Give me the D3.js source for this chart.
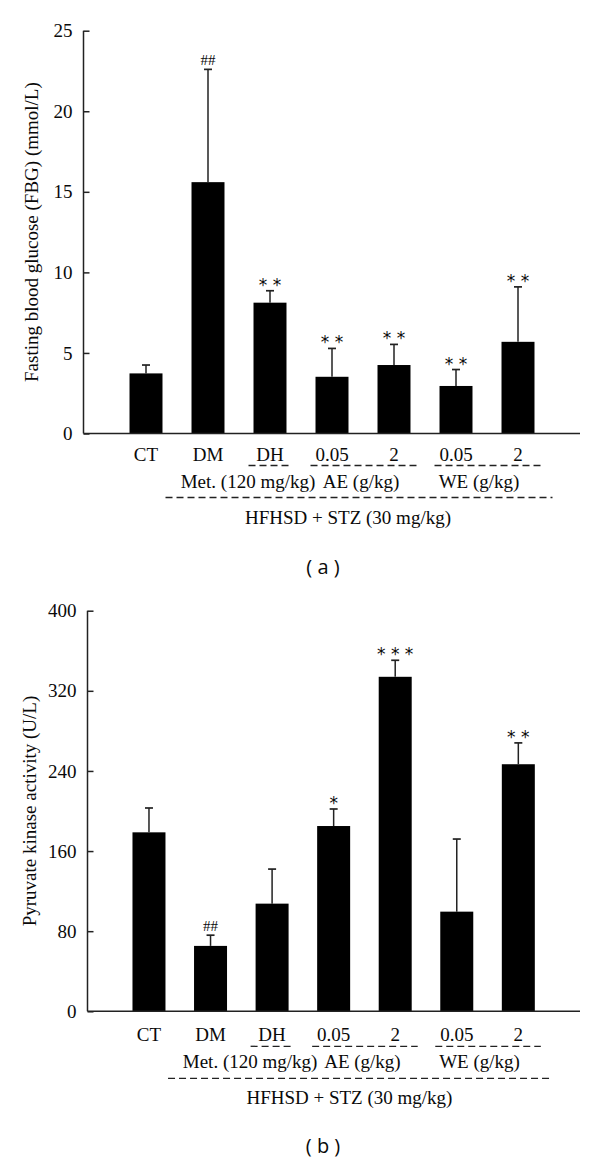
<!DOCTYPE html>
<html>
<head>
<meta charset="utf-8">
<script src="https://cdn.jsdelivr.net/npm/d3@7"></script>
<style>
  html, body { margin: 0; padding: 0; background: #fff; }
  svg { display: block; }
  text { font-family: "Liberation Serif", "Times New Roman", serif; fill: #0a0a0a; }
</style>
</head>
<body>
<svg id="chart" width="600" height="1161"></svg>
<script>
// ---- data ----
const groups = ["CT", "DM", "DH", "AE 0.05", "AE 2", "WE 0.05", "WE 2"];
const tickLabels = ["CT", "DM", "DH", "0.05", "2", "0.05", "2"];

const fbgMean = [3.73, 15.6, 8.12, 3.52, 4.25, 2.95, 5.69];
const fbgErr  = [0.52, 7.0, 0.74, 1.76, 1.28, 1.02, 3.41];
const fbgSig  = ["", "##", "* *", "* *", "* *", "* *", "* *"];
const fbgTicks = [0, 5, 10, 15, 20, 25];

const pkMean = [178.7, 65.3, 107.5, 185, 334, 99.5, 246.7];
const pkErr  = [24.3, 10.7, 34.5, 17, 16.5, 72.5, 21.3];
const pkSig  = ["", "##", "", "*", "* * *", "", "* *"];
const pkTicks = [0, 80, 160, 240, 320, 400];

const subGroups = [
  {label: "Met. (120 mg/kg)", from: "DH", to: "DH", textShift: -22},
  {label: "AE (g/kg)", from: "AE 0.05", to: "AE 2", textShift: -2},
  {label: "WE (g/kg)", from: "WE 0.05", to: "WE 2", textShift: -8}
];
const mainGroup = {label: "HFHSD + STZ (30 mg/kg)", from: "DM", to: "WE 2"};

const svg = d3.select("#chart");

function drawPanel(opt) {
  const g = svg.append("g");
  const x = d3.scaleBand().domain(groups).range(opt.xRange)
    .paddingInner(opt.padIn).paddingOuter(opt.padIn / 2);
  const y = d3.scaleLinear().domain(opt.yDomain).range(opt.yRange);
  const base = y(0);

  // bars
  g.selectAll("rect.bar").data(groups).enter().append("rect")
    .attr("x", d => x(d)).attr("width", x.bandwidth())
    .attr("y", (d, i) => y(opt.mean[i]))
    .attr("height", (d, i) => base - y(opt.mean[i]))
    .attr("fill", "#000");

  // error bars
  const eb = g.selectAll("g.err").data(groups).enter().append("g");
  eb.append("line")
    .attr("x1", d => x(d) + x.bandwidth() / 2).attr("x2", d => x(d) + x.bandwidth() / 2)
    .attr("y1", (d, i) => y(opt.mean[i])).attr("y2", (d, i) => y(opt.mean[i] + opt.err[i]))
    .attr("stroke", "#222").attr("stroke-width", 1.5);
  eb.append("line")
    .attr("x1", d => x(d) + x.bandwidth() / 2 - 4).attr("x2", d => x(d) + x.bandwidth() / 2 + 4)
    .attr("y1", (d, i) => y(opt.mean[i] + opt.err[i])).attr("y2", (d, i) => y(opt.mean[i] + opt.err[i]))
    .attr("stroke", "#222").attr("stroke-width", 1.7);

  // significance marks
  g.selectAll("text.sig").data(groups).enter().append("text")
    .attr("x", d => x(d) + x.bandwidth() / 2)
    .attr("y", (d, i) => y(opt.mean[i] + opt.err[i]) - (opt.sig[i] === "##" ? 4 : 0))
    .attr("text-anchor", "middle")
    .style("font-family", (d, i) => opt.sig[i] === "##"
      ? '"Liberation Serif", serif' : '"DejaVu Sans", sans-serif')
    .attr("font-size", (d, i) => opt.sig[i] === "##" ? 15 : 17)
    .text((d, i) => opt.sig[i]);

  // y axis
  const yAxis = d3.axisLeft(y).tickValues(opt.ticks).tickSize(-6).tickPadding(11)
    .tickFormat(d3.format("d"));
  const ya = g.append("g").attr("transform", `translate(${opt.xAxisX},0)`).call(yAxis);
  ya.select(".domain").attr("stroke", "#222").attr("stroke-width", 1.5)
    .attr("d", `M0,${opt.yRange[1]}V${base}`);
  ya.selectAll(".tick line").attr("stroke", "#222").attr("stroke-width", 1.5);
  ya.selectAll(".tick text").attr("font-size", 19)
    .attr("font-family", '"Liberation Serif", "Times New Roman", serif').attr("fill", "#0a0a0a");

  // baseline (x axis)
  g.append("line").attr("x1", opt.xAxisX).attr("x2", opt.xEnd)
    .attr("y1", base).attr("y2", base).attr("stroke", "#222").attr("stroke-width", 1.5);

  // category labels
  g.selectAll("text.cat").data(groups).enter().append("text")
    .attr("x", d => x(d) + x.bandwidth() / 2)
    .attr("y", base + opt.labOff)
    .attr("text-anchor", "middle").attr("font-size", 19)
    .text((d, i) => tickLabels[i]);

  // sub-group dashed lines and labels
  subGroups.forEach(s => {
    const x0 = x(s.from) - 5, x1 = x(s.to) + x.bandwidth() + 6;
    g.append("line").attr("x1", x0).attr("x2", x1)
      .attr("y1", base + opt.labOff + 5).attr("y2", base + opt.labOff + 5)
      .attr("stroke", "#222").attr("stroke-width", 1.3).attr("stroke-dasharray", "7,4");
    g.append("text").attr("x", (x(s.from) + x(s.to) + x.bandwidth()) / 2 + s.textShift)
      .attr("y", base + opt.labOff + 27).attr("text-anchor", "middle")
      .attr("font-size", 19).text(s.label);
  });

  // main group
  const mx0 = x(mainGroup.from) - 26, mx1 = x(mainGroup.to) + x.bandwidth() + 18;
  g.append("line").attr("x1", mx0).attr("x2", mx1)
    .attr("y1", base + opt.labOff + 37).attr("y2", base + opt.labOff + 37)
    .attr("stroke", "#222").attr("stroke-width", 1.3).attr("stroke-dasharray", "7,4");
  g.append("text").attr("x", (x(mainGroup.from) + x(mainGroup.to) + x.bandwidth()) / 2 - 15)
    .attr("y", base + opt.labOff + 63).attr("text-anchor", "middle")
    .attr("font-size", 19).text(mainGroup.label);

  // y title
  const ymid = (opt.yRange[0] + opt.yRange[1]) / 2;
  g.append("text").attr("transform", `translate(${opt.titleX},${ymid}) rotate(-90)`)
    .attr("text-anchor", "middle").attr("font-size", 19).text(opt.title);

  // panel letter
  g.append("text").attr("x", 323).attr("y", base + opt.letterOff)
    .attr("text-anchor", "middle").attr("font-size", 20)
    .style("font-family", '"Open Sans", "Noto Sans", sans-serif')
    .attr("xml:space", "preserve").text(opt.letter);
}

drawPanel({
  mean: fbgMean, err: fbgErr, sig: fbgSig, ticks: fbgTicks,
  yDomain: [0, 25], yRange: [433.5, 30.7], xRange: [115, 549], padIn: 0.468,
  xAxisX: 83.5, xEnd: 580, labOff: 27, letterOff: 140, titleX: 38,
  title: "Fasting blood glucose (FBG) (mmol/L)", letter: "( a )"
});

drawPanel({
  mean: pkMean, err: pkErr, sig: pkSig, ticks: pkTicks,
  yDomain: [0, 400], yRange: [1011.3, 610.7], xRange: [118.2, 549.1], padIn: 0.464,
  xAxisX: 87.5, xEnd: 580, labOff: 30, letterOff: 142, titleX: 36,
  title: "Pyruvate kinase  activity (U/L)", letter: "( b )"
});
</script>
</body>
</html>
